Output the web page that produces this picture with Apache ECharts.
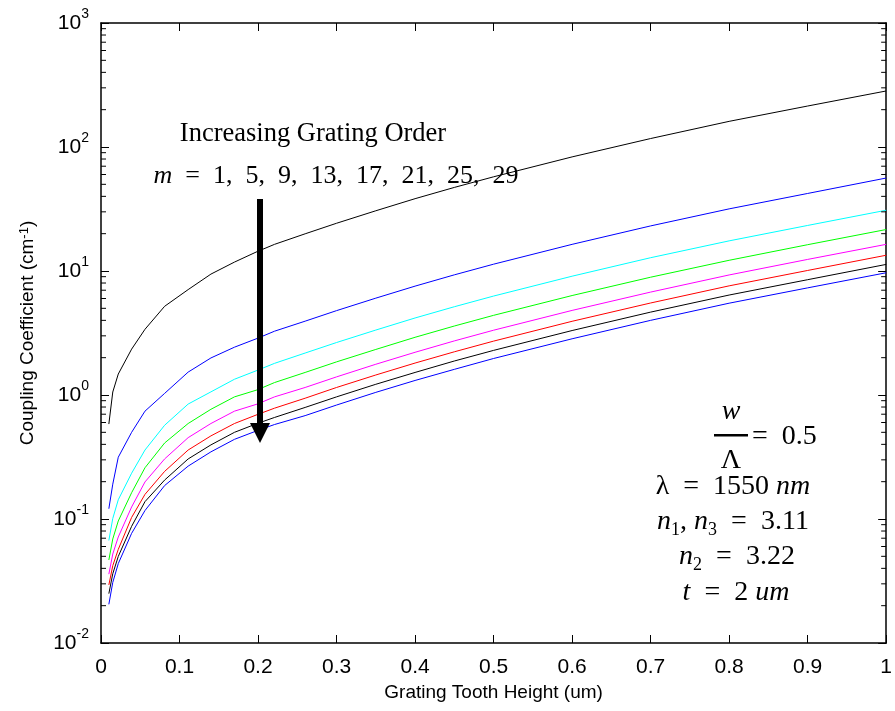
<!DOCTYPE html>
<html>
<head>
<meta charset="utf-8">
<script src="https://cdn.jsdelivr.net/npm/echarts@6/dist/echarts.min.js"></script>
<style>
  html, body { margin: 0; padding: 0; background: #ffffff; }
  #chart { width: 895px; height: 711px; }
</style>
</head>
<body>
<div id="chart"></div>
<script>
// Grating tooth height (um) at which the coupling coefficient is sampled
const toothHeight = [0.01, 0.015, 0.022, 0.039, 0.056, 0.081, 0.111, 0.14, 0.17, 0.199, 0.221,
                     0.26, 0.3, 0.35, 0.4, 0.45, 0.5, 0.6, 0.7, 0.8, 0.9, 1.0];

// Coupling coefficient (cm^-1) for each grating order m
const kappaM1  = [0.583, 1.057, 1.476, 2.344, 3.388, 5.19, 7.08, 9.44, 11.8, 14.35, 16.4,
                  19.95, 24.27, 30.6, 38.3, 47.2, 57.5, 83.2, 117, 161, 214, 283];
const kappaM5  = [0.121, 0.191, 0.315, 0.500, 0.741, 1.03, 1.53, 1.99, 2.43, 2.86, 3.27,
                  3.94, 4.79, 6.04, 7.55, 9.31, 11.35, 16.4, 23.1, 31.7, 42.2, 56.2];
const kappaM9  = [0.0671, 0.101, 0.143, 0.234, 0.360, 0.570, 0.845, 1.06, 1.34, 1.58, 1.80,
                  2.18, 2.65, 3.34, 4.18, 5.15, 6.28, 9.08, 12.8, 17.5, 23.3, 30.9];
const kappaM13 = [0.0467, 0.0690, 0.0964, 0.163, 0.259, 0.410, 0.589, 0.767, 0.966, 1.10, 1.26,
                  1.52, 1.85, 2.33, 2.92, 3.60, 4.39, 6.34, 8.91, 12.2, 16.3, 21.6];
const kappaM17 = [0.0359, 0.0522, 0.0716, 0.125, 0.199, 0.305, 0.453, 0.589, 0.741, 0.845, 0.966,
                  1.15, 1.40, 1.77, 2.21, 2.73, 3.33, 4.81, 6.76, 9.29, 12.4, 16.4];
const kappaM21 = [0.0294, 0.0420, 0.0569, 0.103, 0.158, 0.242, 0.360, 0.468, 0.589, 0.695, 0.783,
                  0.942, 1.15, 1.45, 1.81, 2.23, 2.72, 3.93, 5.52, 7.59, 10.1, 13.4];
const kappaM25 = [0.0250, 0.0362, 0.0499, 0.0873, 0.138, 0.206, 0.305, 0.396, 0.500, 0.589, 0.659,
                  0.794, 0.966, 1.22, 1.52, 1.88, 2.29, 3.31, 4.66, 6.40, 8.51, 11.3];
const kappaM29 = [0.0205, 0.0308, 0.0437, 0.0766, 0.117, 0.186, 0.267, 0.348, 0.439, 0.516, 0.578,
                  0.682, 0.830, 1.05, 1.31, 1.61, 1.97, 2.84, 4.00, 5.50, 7.31, 9.68];

const gratingOrders = [1, 5, 9, 13, 17, 21, 25, 29];
const orderColors = ['#000000', '#0000ff', '#00ffff', '#00ff00', '#ff00ff', '#ff0000', '#000000', '#0000ff'];
const kappaByOrder = [kappaM1, kappaM5, kappaM9, kappaM13, kappaM17, kappaM21, kappaM25, kappaM29];

// Decade tick values on the log axis
const decades = [0.01, 0.1, 1, 10, 100, 1000];

// Minor log ticks (2..9 within each decade)
const minorTicks = [];
for (let d = 0; d < decades.length - 1; d++) {
  for (let k = 2; k <= 9; k++) minorTicks.push(decades[d] * k);
}

const SANS = 'Liberation Sans, Arial, sans-serif';
const SERIF = 'Liberation Serif, Times New Roman, serif';
const AXIS_COLOR = '#000000';

const chart = echarts.init(document.getElementById('chart'), null, { renderer: 'canvas' });

const curveSeries = gratingOrders.map((m, i) => ({
  name: 'm = ' + m,
  type: 'line',
  xAxisIndex: 0,
  yAxisIndex: 0,
  data: toothHeight.map((h, j) => [h, kappaByOrder[i][j]]),
  showSymbol: false,
  smooth: false,
  lineStyle: { color: orderColors[i], width: 1 },
  itemStyle: { color: orderColors[i] },
  silent: true,
  z: 3
}));

// Minor ticks drawn inward on both the left and right frame edges
const minorTickSeries = {
  type: 'custom',
  xAxisIndex: 0,
  yAxisIndex: 0,
  silent: true,
  z: 5,
  data: minorTicks.map(v => [0, v]),
  renderItem: function (params, api) {
    const cs = params.coordSys;
    const y = api.coord([0, api.value(1)])[1];
    const len = 5;
    return {
      type: 'group',
      children: [
        { type: 'line', shape: { x1: cs.x, y1: y, x2: cs.x + len, y2: y },
          style: { stroke: AXIS_COLOR, lineWidth: 1 } },
        { type: 'line', shape: { x1: cs.x + cs.width - len, y1: y, x2: cs.x + cs.width, y2: y },
          style: { stroke: AXIS_COLOR, lineWidth: 1 } }
      ]
    };
  }
};

function fmtX(v) {
  return String(Math.round(v * 10) / 10);
}

const yLabelRich = {
  b: { fontSize: 21, fontFamily: SANS, color: '#000', lineHeight: 32 },
  s: { fontSize: 14, fontFamily: SANS, color: '#000', lineHeight: 14, verticalAlign: 'top' }
};

const frameLine = { show: true, onZero: false, lineStyle: { color: AXIS_COLOR, width: 1.5 } };
const innerTick = { show: true, inside: true, length: 8, lineStyle: { color: AXIS_COLOR, width: 1 } };

const MATH_SIZE = 28;
const mathRich = {
  i: { fontFamily: SERIF, fontSize: MATH_SIZE, fontStyle: 'italic', fill: '#000', color: '#000', lineHeight: 34 },
  r: { fontFamily: SERIF, fontSize: MATH_SIZE, fill: '#000', color: '#000', lineHeight: 34 },
  sub: { fontFamily: SERIF, fontSize: 18, fill: '#000', color: '#000', lineHeight: 15, verticalAlign: 'bottom' },
  m: { fontFamily: SERIF, fontSize: 26, fontStyle: 'italic', fill: '#000', color: '#000', lineHeight: 32 },
  n: { fontFamily: SERIF, fontSize: 26, fill: '#000', color: '#000', lineHeight: 32 }
};

function mathText(text, x, y, align) {
  return {
    type: 'text',
    x: x,
    y: y,
    silent: true,
    z: 10,
    style: {
      text: text,
      rich: mathRich,
      fill: '#000',
      font: MATH_SIZE + 'px ' + SERIF,
      align: align || 'center',
      verticalAlign: 'middle',
      textAlign: align || 'center',
      textVerticalAlign: 'middle'
    }
  };
}

const EN = '\u2002';

const option = {
  backgroundColor: '#ffffff',
  animation: false,
  grid: { left: 101, right: 5, top: 23, bottom: 68, containLabel: false },
  xAxis: [
    {
      type: 'value',
      position: 'bottom',
      min: 0,
      max: 1,
      interval: 0.1,
      axisLine: frameLine,
      axisTick: innerTick,
      splitLine: { show: false },
      axisLabel: {
        show: true,
        margin: 14,
        fontSize: 21,
        fontFamily: SANS,
        color: '#000',
        formatter: fmtX,
        showMinLabel: true,
        showMaxLabel: true
      },
      name: 'Grating Tooth Height (um)',
      nameLocation: 'middle',
      nameGap: 39,
      nameTextStyle: { fontSize: 19, fontFamily: SANS, color: '#000' }
    },
    {
      type: 'value',
      position: 'top',
      min: 0,
      max: 1,
      interval: 0.1,
      axisLine: frameLine,
      axisTick: innerTick,
      splitLine: { show: false },
      axisLabel: { show: false }
    }
  ],
  yAxis: [
    {
      type: 'log',
      logBase: 10,
      position: 'left',
      min: 0.01,
      max: 1000,
      splitNumber: 5,
      axisLine: frameLine,
      axisTick: innerTick,
      splitLine: { show: false },
      axisLabel: {
        show: true,
        margin: 12,
        showMinLabel: true,
        showMaxLabel: true,
        formatter: function (v) {
          const e = Math.round(Math.log10(v));
          return '{b|10}{s|' + e + '}';
        },
        rich: yLabelRich
      },
      name: 'Coupling Coefficient (cm{s|-1})',
      nameLocation: 'middle',
      nameRotate: 90,
      nameGap: 64,
      nameTextStyle: {
        fontSize: 19,
        fontFamily: SANS,
        color: '#000',
        rich: {
          s: { fontSize: 13, fontFamily: SANS, color: '#000', lineHeight: 12, verticalAlign: 'top' }
        }
      }
    },
    {
      type: 'log',
      logBase: 10,
      position: 'right',
      min: 0.01,
      max: 1000,
      splitNumber: 5,
      axisLine: frameLine,
      axisTick: innerTick,
      splitLine: { show: false },
      axisLabel: { show: false }
    }
  ],
  series: curveSeries.concat([minorTickSeries]),
  graphic: {
    elements: [
      // "Increasing Grating Order" annotation with the downward arrow
      {
        type: 'text',
        x: 313,
        y: 134,
        silent: true,
        z: 10,
        style: {
          text: 'Increasing Grating Order',
          fill: '#000',
          font: '26.5px ' + SERIF,
          align: 'center',
          verticalAlign: 'middle',
          textAlign: 'center',
          textVerticalAlign: 'middle'
        }
      },
      mathText('{m|m}{n|' + EN + '=' + EN + '1,' + EN + '5,' + EN + '9,' + EN + '13,' + EN + '17,' + EN + '21,' + EN + '25,' + EN + '29}', 336, 176),
      {
        type: 'rect',
        silent: true,
        z: 10,
        shape: { x: 257, y: 199, width: 6, height: 226 },
        style: { fill: '#000' }
      },
      {
        type: 'polygon',
        silent: true,
        z: 10,
        shape: { points: [[250, 423], [270, 423], [260, 443]] },
        style: { fill: '#000' }
      },
      // Parameter block
      mathText('{i|w}', 731, 412),
      {
        type: 'rect',
        silent: true,
        z: 10,
        shape: { x: 714, y: 434, width: 34, height: 2.5 },
        style: { fill: '#000' }
      },
      mathText('{r|\u039B}', 731, 461),
      mathText('{r|=' + EN + '0.5}', 752, 437, 'left'),
      mathText('{r|\u03BB' + EN + '=' + EN + '1550 }{i|nm}', 733, 487),
      mathText('{i|n}{sub|1}{r|, }{i|n}{sub|3}{r|' + EN + '=' + EN + '3.11}', 733, 522),
      mathText('{i|n}{sub|2}{r|' + EN + '=' + EN + '3.22}', 737, 557),
      mathText('{i|t}{r|' + EN + '=' + EN + '2 }{i|um}', 736, 593)
    ]
  }
};

chart.setOption(option);
</script>
</body>
</html>
